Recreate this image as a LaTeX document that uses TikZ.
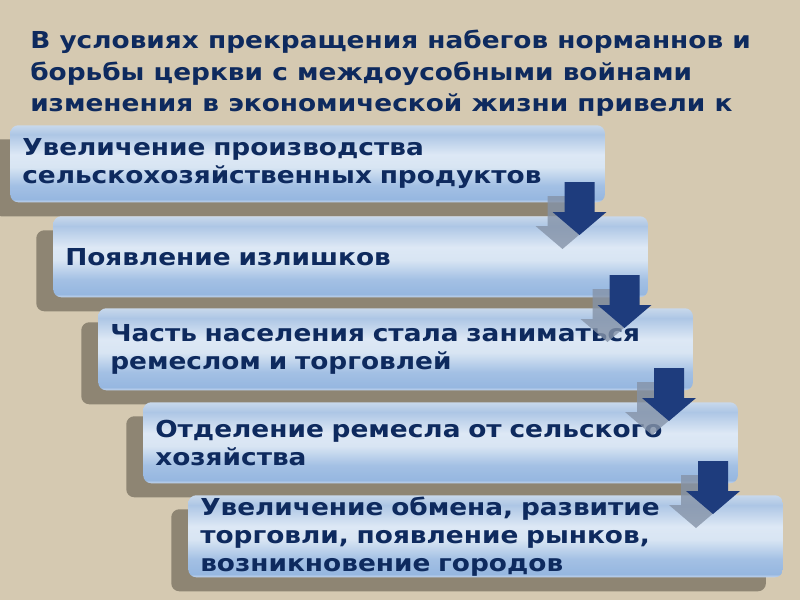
\documentclass[tikz,border=0pt]{standalone}
\usepackage{fontspec}
\setmainfont{DejaVu Sans}[FakeStretch=1.13]
\usetikzlibrary{shadows}
\definecolor{bg}{HTML}{D5C9B1}
\definecolor{shadowc}{HTML}{8E8573}
\definecolor{txt}{HTML}{0E2A5E}
\definecolor{arrowc}{HTML}{1E3C7D}
\definecolor{arrowsh}{HTML}{8593A8}
\definecolor{sA}{HTML}{C4D6EE}
\definecolor{sB}{HTML}{96B7E0}
\definecolor{sC}{HTML}{A3C0E4}
\definecolor{sD}{HTML}{D8E5F3}
\definecolor{sE}{HTML}{DDE8F5}
\definecolor{sF}{HTML}{ADC6E5}
\definecolor{sG}{HTML}{C8D8EB}
\pgfdeclareverticalshading{boxshade}{100bp}{color(0bp)=(sA); color(25bp)=(sA); color(27bp)=(sB); color(36bp)=(sC); color(48bp)=(sD); color(56bp)=(sE); color(69bp)=(sF); color(75bp)=(sG); color(100bp)=(sG)}
\tikzset{
  stepbox/.style={rectangle, rounded corners=6pt, shading=boxshade, anchor=north west,
    minimum width=446pt, minimum height=#1, inner xsep=9pt, inner ysep=0pt,
    text width=428pt, align=left, text=txt, font=\bfseries\fontsize{17.5}{21}\selectfont,
    drop shadow={shadow xshift=-12.75pt, shadow yshift=-10.5pt, fill=shadowc, opacity=1}},
  titletext/.style={anchor=north west, align=left, text=txt, inner sep=0pt,
    font=\bfseries\fontsize{17.5}{23.6}\selectfont},
  blockarrow/.pic={
    \fill[arrowsh, opacity=0.8] (-17-15,14) -- (-17+15,14) -- (-17+15,44) -- (-17+27,44) -- (-17,67) -- (-17-27,44) -- (-17-15,44) -- cycle;
    \fill[arrowc] (-15,0) -- (15,0) -- (15,30) -- (27,30) -- (0,53) -- (-27,30) -- (-15,30) -- cycle;
  }
}
\begin{document}
\begin{tikzpicture}[x=0.75pt,y=-0.75pt]
\fill[bg] (0,0) rectangle (800,600);
\useasboundingbox (0,0) rectangle (800,600);
\node[titletext] (title) at (30,30) {В условиях прекращения набегов норманнов и\\борьбы церкви с междоусобными войнами\\изменения в экономической жизни привели к};
\node[stepbox=57.75pt] (b1) at (10,125) {Увеличение производства\\сельскохозяйственных продуктов};
\node[stepbox=60.75pt] (b2) at (53,216) {Появление излишков};
\node[stepbox=61.5pt] (b3) at (98,308) {Часть населения стала заниматься\\ремеслом и торговлей};
\node[stepbox=60.75pt] (b4) at (143,402) {Отделение ремесла от сельского\\хозяйства};
\node[stepbox=61.5pt] (b5) at (188,495) {Увеличение обмена, развитие\\торговли, появление рынков,\\возникновение городов};
\pic at (579.5,182) {blockarrow};
\pic at (624.5,275) {blockarrow};
\pic at (669,368) {blockarrow};
\pic at (713,461) {blockarrow};
\end{tikzpicture}
\end{document}
